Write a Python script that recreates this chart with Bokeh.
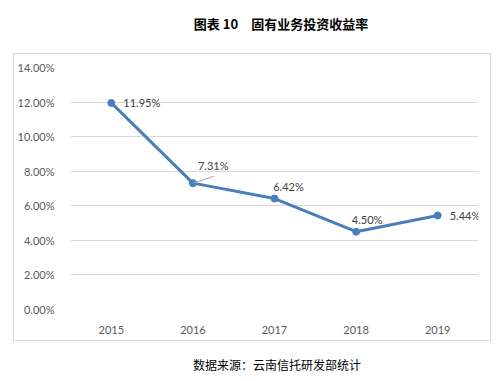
from bokeh.plotting import figure
from bokeh.models import (Range1d, FixedTicker, NumeralTickFormatter, Label,
                          ColumnDataSource, Div)
from bokeh.layouts import column
from bokeh.embed import file_html
from bokeh.resources import INLINE

years = ["2015", "2016", "2017", "2018", "2019"]
returns = [0.1195, 0.0731, 0.0642, 0.0450, 0.0544]
value_labels = ["11.95%", "7.31%", "6.42%", "4.50%", "5.44%"]
y_ticks = [0.0, 0.02, 0.04, 0.06, 0.08, 0.10, 0.12, 0.14]
title_text = "图表 10\u3000固有业务投资收益率"
source_text = "数据来源：云南信托研发部统计"

p = figure(width=478, height=288, output_backend="svg", toolbar_location=None,
           x_range=Range1d(-0.5, 4.5), y_range=Range1d(0, 0.14),
           min_border_left=54, min_border_right=14, min_border_top=13,
           min_border_bottom=33, margin=(0, 0, 0, 13),
           styles={"border": "1px solid #d9d9d9"})
p.background_fill_color = "white"
p.border_fill_color = "white"
p.outline_line_color = None

xs = list(range(len(years)))

# axes
p.yaxis.ticker = FixedTicker(ticks=y_ticks)
p.yaxis.formatter = NumeralTickFormatter(format="0.00%")
p.xaxis.ticker = FixedTicker(ticks=xs)
p.xaxis.major_label_overrides = {i: y for i, y in zip(xs, years)}
for ax in (p.xaxis[0], p.yaxis[0]):
    ax.axis_line_color = None
    ax.major_tick_line_color = None
    ax.minor_tick_line_color = None
    ax.major_label_text_font = "Lato"
    ax.major_label_text_font_size = "11px"
    ax.major_label_text_color = "#595959"
p.yaxis.major_label_standoff = 10
p.xaxis.major_label_standoff = 10
p.xgrid.grid_line_color = None
p.ygrid.grid_line_color = "#d9d9d9"
p.ygrid.grid_line_width = 1

src = ColumnDataSource(dict(x=xs, y=returns, lab=value_labels))
p.line("x", "y", source=src, line_color="#4a7ebb", line_width=3)
p.scatter("x", "y", source=src, size=7, fill_color="#4a7ebb",
          line_color="#4a7ebb")

# leader line for 2016 label
p.segment(x0=[xs[1]], y0=[returns[1]], x1=[xs[1] + 0.26], y1=[returns[1] + 0.004],
          line_color="#a6a6a6", line_width=1)

offsets = [(12, 0, "left"), (5, 18, "left"), (14, 12, "center"),
           (11, 12, "center"), (12, 0, "left")]
for x, y, lab, (dx, dy, al) in zip(xs, returns, value_labels, offsets):
    p.add_layout(Label(x=x, y=y, text=lab, x_offset=dx, y_offset=dy,
                       text_align=al, text_baseline="middle",
                       text_font="Lato", text_font_size="11px",
                       text_color="#404040"))

title_div = Div(
    text=('<div style="width:440px;margin-left:56px;text-align:center;'
          'font-family:\'Noto Sans CJK SC\';font-weight:bold;font-size:13px;'
          'line-height:18px;padding-top:10px;color:#000;white-space:pre">'
          + title_text + '</div>'),
    width=496, height=43)
source_div = Div(
    text=('<div style="width:448px;margin-left:48px;text-align:center;'
          'font-family:\'Noto Sans CJK SC\';font-size:12px;'
          'line-height:16px;padding-top:11px;color:#000">'
          + source_text + '</div>'),
    width=496, height=28)

layout = column(title_div, p, source_div)

open("out.html", "w").write(file_html(layout, INLINE))
